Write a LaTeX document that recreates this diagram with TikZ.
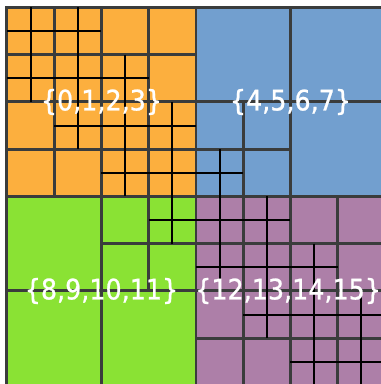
\documentclass[tikz,border=0pt]{standalone}
\usepackage{fontspec}
\newfontfamily\labelfont[FakeBold=0.8]{DejaVu Sans Condensed}
\definecolor{tangoorange}{HTML}{FCAF3E}
\definecolor{tangoblue}{HTML}{729FCF}
\definecolor{tangogreen}{HTML}{8AE234}
\definecolor{tangoplum}{HTML}{AD7FA8}
\definecolor{gridgray}{HTML}{3A3C3C}

\begin{document}
\begin{tikzpicture}[x=0.5cm,y=-0.5cm,
    coarse/.style={draw=gridgray,line width=1.8pt},
    fine/.style={draw=black,line width=1.2pt},
    rank/.style={text=white,inner sep=0pt,font=\labelfont\fontsize{17}{20}\selectfont}]
    \useasboundingbox (-0.296,-0.317) rectangle (15.831,15.937);
    % the four quadrants
    \fill[tangoorange] (0,0) rectangle (8,8);
    \fill[tangoblue] (8,0) rectangle (16,8);
    \fill[tangogreen] (0,8) rectangle (8,16);
    \fill[tangoplum] (8,8) rectangle (16,16);
    % first split inside every quadrant
    \foreach \qx/\qy in {0/0,8/0,0/8,8/8}{
        \draw[coarse] (\qx+4,\qy)--(\qx+4,\qy+8);
        \draw[coarse] (\qx,\qy+4)--(\qx+8,\qy+4);
    }
    % second split
    \foreach \bx/\by in {0/0,4/0,0/4,4/4,8/4,4/8,8/8,12/8,8/12,12/12}{
        \draw[coarse] (\bx+2,\by)--(\bx+2,\by+4);
        \draw[coarse] (\bx,\by+2)--(\bx+4,\by+2);
    }
    % outline
    \draw[coarse] (0,0) rectangle (16,16);
    \draw[coarse] (8,0)--(8,16);
    \draw[coarse] (0,8)--(16,8);
    % finest split
    \foreach \cx/\cy in {0/0,2/0,0/2,2/2,4/2,2/4,4/4,6/4,4/6,6/6,
                        8/6,6/8,
                        8/8,10/8,8/10,10/10,12/10,10/12,12/12,14/12,12/14,14/14}{
        \draw[fine] (\cx+1,\cy)--(\cx+1,\cy+2);
        \draw[fine] (\cx,\cy+1)--(\cx+2,\cy+1);
    }
    % owners
    \node[rank] (ranksA) at (4,4) {\{0,1,2,3\}};
    \node[rank] (ranksB) at (12,4) {\{4,5,6,7\}};
    \node[rank] (ranksC) at (4,12) {\{8,9,10,11\}};
    \node[rank] (ranksD) at (11.9,12) {\{12,13,14,15\}};
\end{tikzpicture}
\end{document}
